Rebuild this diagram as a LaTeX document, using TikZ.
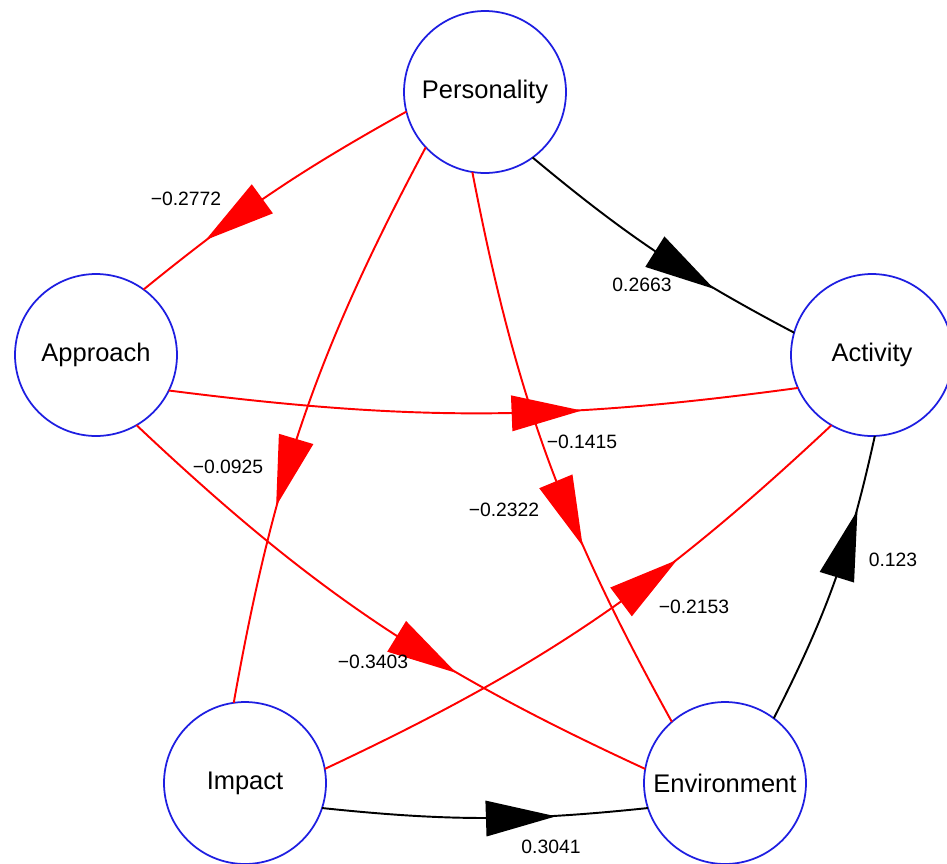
\documentclass[tikz,border=0pt]{standalone}
\usepackage{fontspec}
\setmainfont{Liberation Sans}
\usetikzlibrary{decorations.markings}
\definecolor{nodeblue}{RGB}{30,30,225}
\definecolor{edgered}{RGB}{255,0,0}
\tikzset{
  var/.style={circle, draw=nodeblue, line width=1pt, minimum size=3.24cm, inner sep=0pt, outer sep=0pt, font=\fontsize{14.5}{17}\selectfont},
  wt/.style={font=\fontsize{11}{13}\selectfont, inner sep=0pt},
  arr/.style n args={2}{postaction={decorate}, decoration={markings, mark=at position #1 with {\fill[#2] (0.7cm,0) -- (-0.7cm,0.36cm) -- (-0.7cm,-0.36cm) -- cycle;}}},
  posedge/.style={draw=black, line width=1.1pt},
  negedge/.style={draw=edgered, line width=1.1pt},
}
\begin{document}
\begin{tikzpicture}[x=0.02cm, y=-0.02cm]
\useasboundingbox (0,0) rectangle (947,863);
% nodes
\node[var] (P) at (485,92) {Personality};
\node[var] (A) at (96,355) {Approach};
\node[var] (C) at (872,355) {Activity};
\node[var] (I) at (245,783) {Impact};
\node[var] (E) at (725,783) {Environment};
% edges
\draw[negedge, arr={0.64}{edgered}] (P.194) to[bend right=5] (A.54.5);
\draw[posedge, arr={0.60}{black}] (P.306) to[bend right=6] (C.164);
\draw[negedge, arr={0.60}{edgered}] (P.223) to[bend right=9] (I.98.5);
\draw[negedge, arr={0.605}{edgered}] (P.261.5) to[bend right=9] (E.131.4);
\draw[negedge, arr={0.60}{edgered}] (A.334.7) to[bend right=7.5] (C.204.3);
\draw[negedge, arr={0.60}{edgered}] (A.300.4) to[bend right=9.3] (E.170.8);
\draw[negedge, arr={0.61}{edgered}] (I.10.6) to[bend right=9] (C.240.3);
\draw[posedge, arr={0.63}{black}] (E.53.7) to[bend right=7.3] (C.272);
\draw[posedge, arr={0.61}{black}] (I.342) to[bend right=6] (E.198);
% weights
\node[wt] (w1) at (186,199) {−0.2772};
\node[wt] (w2) at (642,285) {0.2663};
\node[wt] (w3) at (228,467) {−0.0925};
\node[wt] (w4) at (504,510) {−0.2322};
\node[wt] (w5) at (582,442) {−0.1415};
\node[wt] (w6) at (373,662) {−0.3403};
\node[wt] (w7) at (694,607) {−0.2153};
\node[wt] (w8) at (893,560) {0.123};
\node[wt] (w9) at (551,847) {0.3041};
\end{tikzpicture}
\end{document}
